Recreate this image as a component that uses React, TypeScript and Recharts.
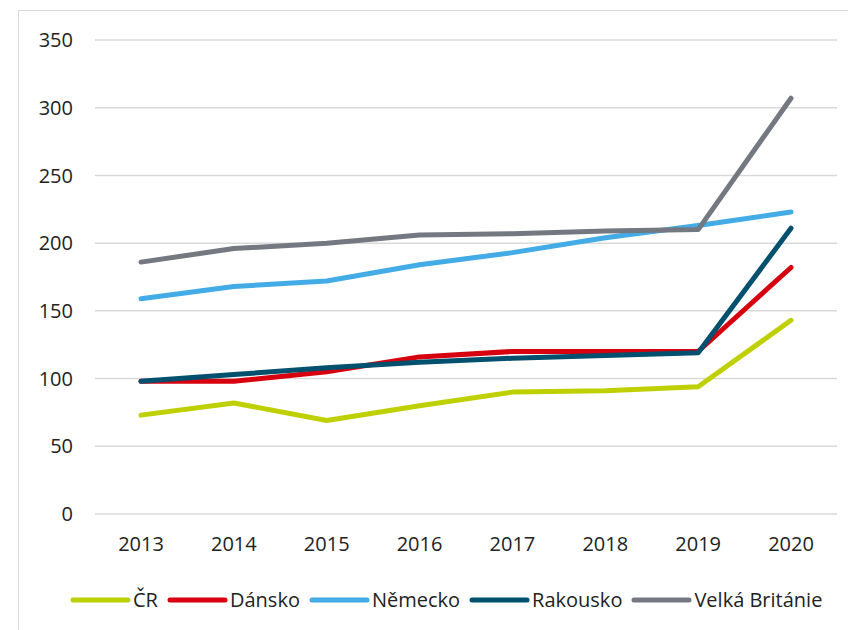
import React from "react";
import { CartesianGrid, Legend, Line, LineChart, XAxis, YAxis } from "recharts";

const years = ["2013", "2014", "2015", "2016", "2017", "2018", "2019", "2020"];
const cr = [73, 82, 69, 80, 90, 91, 94, 143];
const dansko = [98, 98, 105, 116, 120, 120, 120, 182];
const nemecko = [159, 168, 172, 184, 193, 204, 213, 223];
const rakousko = [98, 103, 108, 112, 115, 117, 119, 211];
const britanie = [186, 196, 200, 206, 207, 209, 210, 307];
const yTicks = [0, 50, 100, 150, 200, 250, 300, 350];

const series = [
    { key: "cr", name: "ČR", color: "#bed000", values: cr },
    { key: "dansko", name: "Dánsko", color: "#d7000f", values: dansko },
    { key: "nemecko", name: "Německo", color: "#43abe5", values: nemecko },
    { key: "rakousko", name: "Rakousko", color: "#00506e", values: rakousko },
    { key: "britanie", name: "Velká Británie", color: "#737881", values: britanie },
];

const data = years.map((year, i) => {
    const row: any = { year };
    series.forEach((s) => (row[s.key] = s.values[i]));
    return row;
});

const font = "'Open Sans', 'Noto Sans', sans-serif";

const LegendContent = () => (
    <div style={{ display: "flex", alignItems: "center", fontFamily: font, fontSize: 20, color: "#222", whiteSpace: "nowrap" }}>
        {series.map((s) => (
            <div key={s.key} style={{ display: "flex", alignItems: "center", marginRight: 9 }}>
                <svg width={61} height={8} style={{ marginRight: 2 }}>
                    <line x1={3} y1={4} x2={58} y2={4} stroke={s.color} strokeWidth={5} strokeLinecap="round" />
                </svg>
                <span>{s.name}</span>
            </div>
        ))}
    </div>
);

export default function App() {
    return (
        <div style={{ position: "absolute", left: 0, top: 0, width: 848, height: 630, background: "#fff", overflow: "hidden" }}>
            <div
                style={{
                    position: "absolute",
                    left: 18,
                    top: 10,
                    width: 900,
                    height: 700,
                    borderLeft: "1px solid #d9d9d9",
                    borderTop: "1px solid #d9d9d9",
                }}
            />
            <div style={{ position: "absolute", left: 0, top: 0 }}>
                <LineChart width={848} height={630} data={data} margin={{ top: 40, right: 11, bottom: 62, left: 0 }}>
                    <CartesianGrid vertical={false} stroke="#d9d9d9" strokeWidth={1.5} />
                    <XAxis
                        dataKey="year"
                        height={30}
                        axisLine={false}
                        tickLine={false}
                        tickSize={0}
                        tickMargin={23}
                        padding={{ left: 46, right: 46 }}
                        tick={{ fill: "#222", fontSize: 20, fontFamily: font }}
                        interval={0}
                    />
                    <YAxis
                        domain={[0, 350]}
                        ticks={yTicks}
                        width={95}
                        axisLine={false}
                        tickLine={false}
                        tickSize={0}
                        tickMargin={22}
                        tick={{ fill: "#222", fontSize: 20, fontFamily: font }}
                    />
                    {series.map((s) => (
                        <Line
                            key={s.key}
                            dataKey={s.key}
                            name={s.name}
                            stroke={s.color}
                            strokeWidth={5}
                            dot={false}
                            activeDot={false}
                            strokeLinecap="round"
                            strokeLinejoin="round"
                            isAnimationActive={false}
                        />
                    ))}
                    <Legend
                        content={LegendContent}
                        wrapperStyle={{ position: "absolute", left: 70, top: 586, width: 780, height: 24 }}
                    />
                </LineChart>
            </div>
        </div>
    );
}
